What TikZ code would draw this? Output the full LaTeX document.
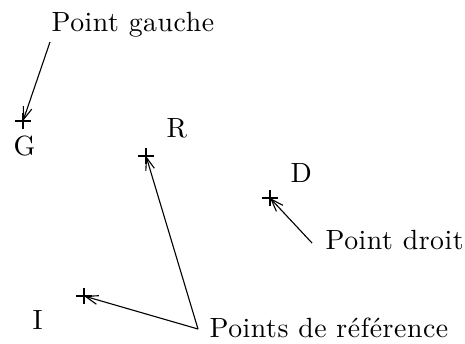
\documentclass[tikz,border=0pt]{standalone}
\usepackage{fontspec}
\newfontfamily\lmsp{lmroman10-regular.otf}[LetterSpace=2]
\usetikzlibrary{arrows.meta}
\begin{document}
\begin{tikzpicture}[x=0.36pt,y=-0.36pt,
  lbl/.style={inner sep=0pt,anchor=base west,font=\fontsize{10}{12}\lmsp},
  crossmark/.style={line width=0.4pt},
  arr/.style={line width=0.4pt,-{Straight Barb[length=4.5pt,width=3.2pt,line width=0.4pt]}}]
\useasboundingbox (0,0) rectangle (465,343);
% cross points
\coordinate (G) at (23,121);
\coordinate (R) at (146,156);
\coordinate (D) at (270,198);
\coordinate (I) at (84,296);
\foreach \p in {G,R,D,I}{
  \draw[crossmark] ([xshift=-8*0.36pt]\p) -- ([xshift=8*0.36pt]\p);
  \draw[crossmark] ([yshift=-8*0.36pt]\p) -- ([yshift=8*0.36pt]\p);
}
% letter labels
\node[lbl] (lG) at (13,155) {G};
\node[lbl] (lR) at (166,137) {R};
\node[lbl] (lD) at (290,182) {D};
\node[lbl] (lI) at (32,329) {I};
% text labels
\node[lbl] (tg) at (51,31) {Point gauche};
\node[lbl] (td) at (325,249) {Point droit};
\node[lbl] (tr) at (209,337) {Points de r\'ef\'erence};
% connector start points
\coordinate (sg) at (50,42);
\coordinate (sd) at (312,243);
\coordinate (sr) at (198,329);
\draw[arr] (sg) -- (G);
\draw[arr] (sd) -- (D);
\draw[arr] (sr) -- (R);
\draw[arr] (sr) -- (I);
\end{tikzpicture}
\end{document}
